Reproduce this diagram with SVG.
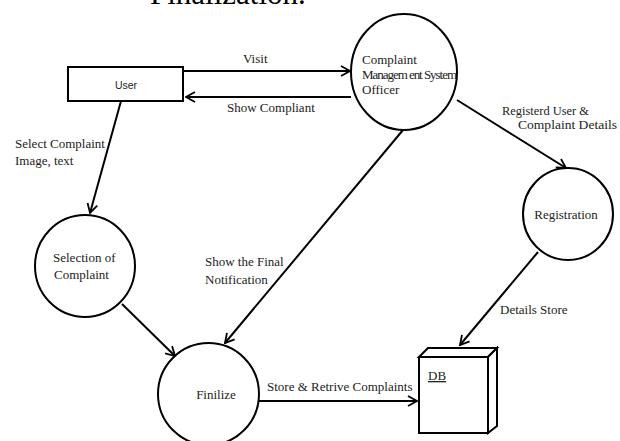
<svg xmlns="http://www.w3.org/2000/svg" width="620" height="441" viewBox="0 0 620 441">
  <defs>
    <marker id="arr" viewBox="0 0 12 12" refX="11" refY="6" markerWidth="12" markerHeight="12" markerUnits="userSpaceOnUse" orient="auto">
      <path d="M2,1 L11,6 L2,11" fill="none" stroke="#000" stroke-width="1.8"/>
    </marker>
  </defs>
  <style>
    .shape { fill: #fff; stroke: #000; stroke-width: 2; }
    .line { fill: none; stroke: #000; stroke-width: 2; marker-end: url(#arr); }
    .t { font-family: "Liberation Serif", "Times New Roman", serif; font-size: 13px; fill: #222; }
    .s { font-family: "Liberation Sans", Arial, sans-serif; font-size: 10.5px; fill: #222; }
  </style>
  <rect width="620" height="441" fill="#fff"/>
  <text x="150" y="4" font-family="Liberation Serif, serif" font-size="31" fill="#000">Finalization.</text>

  <g id="connectors">
    <line class="line" x1="183" y1="71" x2="350" y2="71"/>
    <line class="line" x1="351" y1="97" x2="186" y2="97"/>
    <line class="line" x1="457" y1="100" x2="566" y2="168"/>
    <line class="line" x1="121" y1="101" x2="90" y2="213"/>
    <line class="line" x1="122" y1="304" x2="175" y2="356"/>
    <line class="line" x1="403" y1="130" x2="225" y2="343"/>
    <line class="line" x1="259" y1="401" x2="417" y2="401"/>
    <line class="line" x1="538" y1="252" x2="460" y2="345"/>
    <text class="t" x="243" y="63">Visit</text>
    <text class="t" x="227" y="112">Show Compliant</text>
    <text class="t" x="502" y="115" font-size="11.5" textLength="87" lengthAdjust="spacingAndGlyphs">Registerd User &amp;</text>
    <text class="t" x="518" y="129" font-size="11.5" textLength="99" lengthAdjust="spacingAndGlyphs">Complaint Details</text>
    <text class="t" x="15" y="148" font-size="12.5">Select Complaint</text>
    <text class="t" x="15" y="165" font-size="12.5">Image, text</text>
    <text class="t" x="205" y="266" font-size="13.5">Show the Final</text>
    <text class="t" x="205" y="284" font-size="13.5">Notification</text>
    <text class="t" x="500" y="314">Details Store</text>
    <text class="t" x="267" y="391">Store &amp; Retrive Complaints</text>
  </g>

  <g id="user">
    <rect class="shape" x="68" y="67" width="115" height="34"/>
    <text class="s" x="126" y="89" text-anchor="middle">User</text>
  </g>

  <g id="cms">
    <ellipse class="shape" cx="404" cy="72" rx="53" ry="58"/>
    <text class="t" x="362" y="64" font-size="11.5">Complaint</text>
    <text class="t" x="362" y="79" font-size="11.5" textLength="95" lengthAdjust="spacing">Managem ent System</text>
    <text class="t" x="362" y="94" font-size="11.5">Officer</text>
  </g>

  <g id="registration">
    <ellipse class="shape" cx="568" cy="214" rx="45" ry="46"/>
    <text class="t" x="566" y="219" font-size="12" text-anchor="middle">Registration</text>
  </g>

  <g id="selection">
    <ellipse class="shape" cx="85" cy="266" rx="50" ry="51"/>
    <text class="t" x="53" y="262" font-size="13.3">Selection of</text>
    <text class="t" x="54" y="279" font-size="13.3">Complaint</text>
  </g>

  <g id="finilize">
    <ellipse class="shape" cx="208.5" cy="394" rx="50.5" ry="51"/>
    <text class="t" x="216" y="399" font-size="13.5" text-anchor="middle">Finilize</text>
  </g>

  <g id="db">
    <rect class="shape" x="419" y="357" width="69" height="76"/>
    <polygon class="shape" points="419,357 428,348 497,348 488,357"/>
    <polygon class="shape" points="488,357 497,348 497,426 488,433"/>
    <text class="t" x="428" y="380" font-size="15" text-decoration="underline">DB</text>
  </g>
</svg>
